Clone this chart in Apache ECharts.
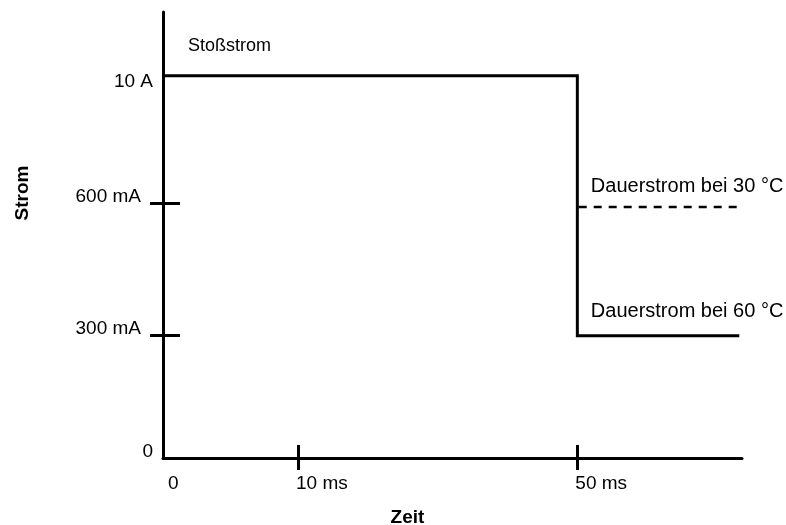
<!DOCTYPE html>
<html>
<head>
<meta charset="utf-8">
<script src="https://cdn.jsdelivr.net/npm/echarts@6/dist/echarts.min.js"></script>
<style>html,body{margin:0;padding:0;background:#fff}#c{width:786px;height:525px}</style>
</head>
<body>
<div id="c"></div>
<script>
// schematic axes: positions of the (non-linear) tick labels
var xTickLabels = ['0', '10 ms', '50 ms'];
var xTickPos = [0, 1, 3.07];
var xMax = 4.29;
var yTickLabels = ['0', '300 mA', '600 mA', '10 A'];
var yTickPos = [0, 0.96, 2, 3];
var yMax = 3.5;
// current curve (Stoßstrom then Dauerstrom bei 60 °C)
var curveX = [0, 3.07, 3.07, 4.27];
var curveY = [3, 3, 0.96, 0.96];
// Dauerstrom bei 30 °C (dashed)
var dashX = [3.08, 4.29];
var dashY = [1.97, 1.97];
// annotation texts and anchors
var noteTexts = ['Stoßstrom', 'Dauerstrom bei 30 °C', 'Dauerstrom bei 60 °C'];
var noteX = [0.185, 3.17, 3.17];
var noteY = [3.23, 2.13, 1.146];
var noteSize = [18, 20, 20];

var FONT = '"Liberation Sans", Arial, Helvetica, sans-serif';
var zip = function (a, b) { return a.map(function (v, i) { return [v, b[i]]; }); };

var chart = echarts.init(document.getElementById('c'));
var yLabelStyle = ['y0', 'yt', 'yt', 'ya'];
var xLabelStyle = ['x0', 'xt', 'xt'];
chart.setOption({
  animation: false,
  backgroundColor: '#fff',
  grid: { left: 163, top: 12, right: 44, bottom: 67, containLabel: false, outerBoundsMode: 'none' },
  xAxis: [{
    type: 'value', min: 0, max: xMax,
    name: 'Zeit', nameLocation: 'middle', nameGap: 50,
    nameTextStyle: { fontFamily: FONT, fontSize: 19, fontWeight: 'bold', color: '#000', padding: [0, 90, 0, 0] },
    axisLine: { show: true, lineStyle: { color: '#000', width: 3 } },
    axisTick: { show: true, inside: false, length: 12, customValues: [xTickPos[1], xTickPos[2]], lineStyle: { color: '#000', width: 3 } },
    axisLabel: {
      show: true, customValues: xTickPos, margin: 16, align: 'left',
      fontFamily: FONT, fontSize: 19, color: '#000',
      formatter: function (v) {
        var i = xTickPos.indexOf(v);
        return i < 0 ? '' : '{' + xLabelStyle[i] + '|' + xTickLabels[i] + '}';
      },
      rich: {
        x0: { fontFamily: FONT, fontSize: 19, color: '#000', padding: [0, 0, 0, 5] },
        xt: { fontFamily: FONT, fontSize: 19, color: '#000', padding: [0, 0, 0, -2] }
      }
    },
    splitLine: { show: false }
  }, {
    type: 'value', min: 0, max: xMax, position: 'bottom',
    axisLine: { show: false },
    axisTick: { show: true, inside: true, length: 13, customValues: [xTickPos[1], xTickPos[2]], lineStyle: { color: '#000', width: 3 } },
    axisLabel: { show: false },
    splitLine: { show: false }
  }],
  yAxis: [{
    type: 'value', min: 0, max: yMax,
    name: 'Strom', nameLocation: 'middle', nameGap: 131, nameRotate: 90,
    nameTextStyle: { fontFamily: FONT, fontSize: 19, fontWeight: 'bold', color: '#000', padding: [0, 0, 0, 84] },
    axisLine: { show: true, lineStyle: { color: '#000', width: 3 } },
    axisTick: { show: true, inside: false, length: 13, customValues: [yTickPos[1], yTickPos[2]], lineStyle: { color: '#000', width: 3 } },
    axisLabel: {
      show: true, customValues: yTickPos, margin: 10,
      fontFamily: FONT, fontSize: 19, color: '#000',
      formatter: function (v) {
        var i = yTickPos.indexOf(v);
        return i < 0 ? '' : '{' + yLabelStyle[i] + '|' + yTickLabels[i] + '}';
      },
      rich: {
        y0: { fontFamily: FONT, fontSize: 19, color: '#000', padding: [0, 0, 12, 0] },
        yt: { fontFamily: FONT, fontSize: 19, color: '#000', padding: [0, 12, 13, 0] },
        ya: { fontFamily: FONT, fontSize: 19, color: '#000', padding: [12, 0, 0, 0] }
      }
    },
    splitLine: { show: false }
  }, {
    type: 'value', min: 0, max: yMax, position: 'left',
    axisLine: { show: false },
    axisTick: { show: true, inside: true, length: 17, customValues: [yTickPos[1], yTickPos[2]], lineStyle: { color: '#000', width: 3 } },
    axisLabel: { show: false },
    splitLine: { show: false }
  }],
  series: [{
    type: 'line', name: 'Strom', data: zip(curveX, curveY),
    showSymbol: false, symbol: 'none',
    lineStyle: { color: '#000', width: 3, join: 'miter', cap: 'butt' }
  }, {
    type: 'line', name: 'Dauerstrom bei 30 °C', data: zip(dashX, dashY),
    showSymbol: false, symbol: 'none',
    lineStyle: { color: '#000', width: 2.5, type: [8, 7] }
  }, {
    type: 'scatter', symbolSize: 0, silent: true,
    itemStyle: { opacity: 1, color: '#000' },
    data: noteTexts.map(function (t, i) {
      return { value: [noteX[i], noteY[i]], name: t, label: { fontSize: noteSize[i] } };
    }),
    label: {
      show: true, position: 'right', distance: 0,
      formatter: function (p) { return p.name; },
      fontFamily: FONT, fontSize: 18, color: '#000', opacity: 1
    }
  }]
});
</script>
</body>
</html>
